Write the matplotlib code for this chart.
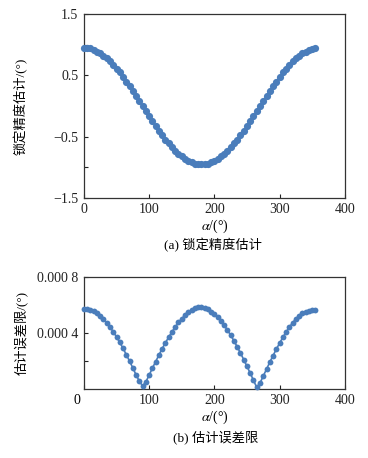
import numpy as np
import matplotlib
matplotlib.use('Agg')
import matplotlib.pyplot as plt

plt.rcParams['font.family'] = ['Liberation Serif', 'Noto Sans CJK SC']
plt.rcParams['mathtext.fontset'] = 'stix'
plt.rcParams['axes.unicode_minus'] = True

# angulos (graus)
alpha = np.arange(0, 360, 5)

# (a) estimativa da precisao
precisao = [0.95, 0.95, 0.94, 0.92, 0.89, 0.86, 0.82, 0.78, 0.73, 0.67,
            0.61, 0.55, 0.48, 0.40, 0.33, 0.25, 0.17, 0.08, 0.00,
            -0.08, -0.17, -0.25, -0.33, -0.40, -0.48, -0.55, -0.61, -0.67,
            -0.73, -0.78, -0.82, -0.86, -0.89, -0.92, -0.94, -0.95, -0.95,
            -0.95, -0.94, -0.92, -0.89, -0.86, -0.82, -0.78, -0.73, -0.67,
            -0.61, -0.55, -0.48, -0.40, -0.33, -0.25, -0.17, -0.08, 0.00,
            0.08, 0.17, 0.25, 0.33, 0.40, 0.48, 0.55, 0.61, 0.67, 0.73,
            0.78, 0.82, 0.86, 0.89, 0.92, 0.93, 0.94]

# (b) limite do erro (unidades de 1e-4)
erro_e4 = [5.72, 5.70, 5.64, 5.55, 5.42, 5.22, 5.00, 4.72, 4.42, 4.08,
           3.72, 3.32, 2.90, 2.45, 1.98, 1.50, 1.00, 0.55, 0.20,
           0.50, 0.98, 1.48, 1.95, 2.42, 2.88, 3.30, 3.70, 4.08, 4.42,
           4.75, 5.02, 5.28, 5.48, 5.65, 5.78, 5.85, 5.86,
           5.78, 5.68, 5.53, 5.34, 5.12, 4.85, 4.55, 4.21, 3.84, 3.44,
           3.01, 2.56, 2.10, 1.61, 1.12, 0.61, 0.10, 0.41, 0.92, 1.41,
           1.91, 2.38, 2.84, 3.27, 3.68, 4.06, 4.42, 4.73, 5.01, 5.22,
           5.40, 5.52, 5.60, 5.65, 5.66]
erro = np.array(erro_e4) * 1e-4

cor = '#4a7dbb'
cor_eixo = '#333333'

fig = plt.figure(figsize=(3.68, 4.58), dpi=100)
ax1 = fig.add_axes([0.228, 0.568, 0.709, 0.401])
ax2 = fig.add_axes([0.228, 0.151, 0.709, 0.244])

# grafico (a)
ax1.plot(alpha, precisao, color=cor, lw=1.2, marker='o', ms=5.2,
         markeredgewidth=0, clip_on=False, zorder=3)
ax1.set_xlim(0, 400)
ax1.set_ylim(-1.5, 1.5)
ax1.set_xticks([0, 100, 200, 300, 400])
ax1.set_yticks([1.5, 1.0, 0.5, -0.5, -1.0, -1.5])
ax1.set_yticklabels(['1.5', '', '0.5', '\u22120.5', '', '\u22121.5'])
ax1.set_ylabel('锁定精度估计/(°)', fontsize=9.5)
ax1.yaxis.set_label_coords(-0.215, 0.5)
ax1.set_xlabel(r'$\alpha$/(°)', fontsize=10, labelpad=1)

# grafico (b)
ax2.plot(alpha, erro, color=cor, lw=1.2, marker='o', ms=4.2,
         markeredgewidth=0, clip_on=False, zorder=3)
ax2.set_xlim(0, 400)
ax2.set_ylim(0, 0.0008)
ax2.set_xticks([0, 100, 200, 300, 400])
ax2.set_xticklabels(['', '100', '200', '300', '400'])
ax2.set_yticks([0.0002, 0.0004, 0.0008])
ax2.set_yticklabels(['', '0.000 4', '0.000 8'])
ax2.set_ylabel('估计误差限/(°)', fontsize=9.5)
ax2.yaxis.set_label_coords(-0.215, 0.5)
ax2.set_xlabel(r'$\alpha$/(°)', fontsize=10, labelpad=1)
ax2.text(-0.025, -0.1, '0', transform=ax2.transAxes, ha='center', va='center',
         fontsize=10)

for ax in (ax1, ax2):
    ax.tick_params(direction='in', length=3, width=0.8, labelsize=10,
                   colors='#222222', pad=4)
    for s in ax.spines.values():
        s.set_color(cor_eixo)
        s.set_linewidth(0.9)

fig.text(0.578, 0.465, '(a) 锁定精度估计', ha='center', va='center', fontsize=9.5)
fig.text(0.585, 0.046, '(b) 估计误差限', ha='center', va='center', fontsize=9.5)

fig.savefig('out.png', dpi=100)
